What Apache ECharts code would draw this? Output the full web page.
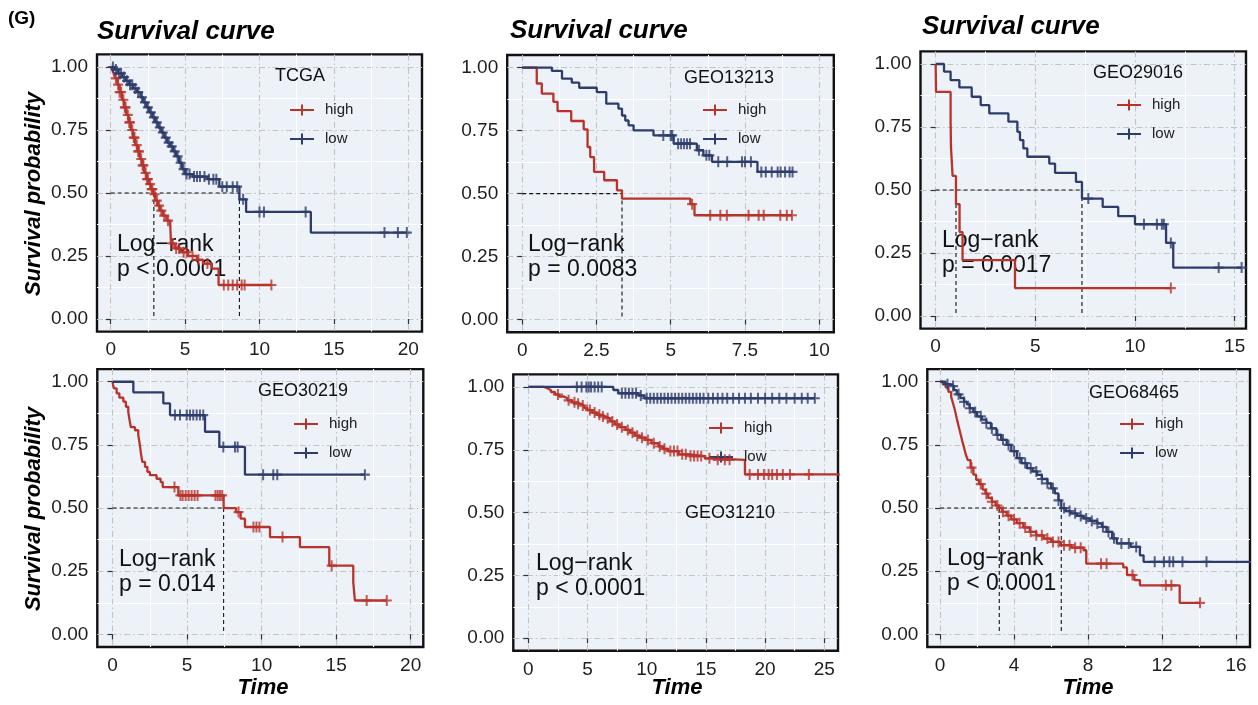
<!DOCTYPE html>
<html><head><meta charset="utf-8">
<script src="https://cdn.jsdelivr.net/npm/echarts@6/dist/echarts.min.js"></script>
<style>html,body{margin:0;padding:0;background:#fff}#c{width:1258px;height:705px}</style>
</head><body><div id="c"></div>
<script>
// ---------------- DATA ----------------
const yTicks = [0, 0.25, 0.5, 0.75, 1];

// TCGA
const tcgaTicks = [0, 5, 10, 15, 20];
const tcgaHigh = [[0,1],[0.1,0.99],[0.2,0.975],[0.3,0.955],[0.45,0.93],[0.6,0.9],[0.75,0.87],[0.9,0.84],[1.05,0.81],[1.2,0.78],[1.35,0.75],[1.5,0.72],[1.65,0.69],[1.8,0.665],[1.95,0.635],[2.1,0.61],[2.25,0.58],[2.4,0.555],[2.55,0.535],[2.7,0.515],[2.85,0.495],[3.0,0.47],[3.15,0.45],[3.3,0.43],[3.5,0.41],[3.75,0.39],[4.0,0.38],[4.05,0.3],[4.3,0.28],[4.7,0.265],[5.2,0.25],[5.8,0.235],[6.2,0.22],[6.8,0.2],[7.25,0.135]];
const tcgaHighCens = [0.35,0.5,0.6,0.7,0.85,0.95,1.0,1.15,1.25,1.3,1.45,1.55,1.6,1.75,1.85,1.9,2.05,2.15,2.2,2.35,2.45,2.5,2.65,2.75,2.8,2.95,3.1,3.25,3.4,3.6,3.85,4.15,4.4,4.6,4.9,5.1,5.5,5.9,6.5,7.6,7.9,8.2,8.5,8.8,9.0,10.8];
const tcgaLow = [[0,1],[0.25,0.99],[0.5,0.975],[0.75,0.96],[1.0,0.945],[1.25,0.93],[1.5,0.915],[1.75,0.9],[2.0,0.88],[2.2,0.86],[2.4,0.84],[2.6,0.82],[2.8,0.8],[3.0,0.78],[3.2,0.76],[3.4,0.74],[3.6,0.72],[3.8,0.7],[4.0,0.685],[4.2,0.665],[4.4,0.645],[4.6,0.62],[4.8,0.595],[5.0,0.575],[5.5,0.565],[6.5,0.555],[7.3,0.525],[8.65,0.475],[9.1,0.425],[13.45,0.343]];
const tcgaLowCens = [0.15,0.35,0.55,0.7,0.9,1.1,1.3,1.45,1.65,1.85,2.1,2.3,2.5,2.7,2.9,3.1,3.3,3.5,3.7,3.9,4.1,4.3,4.5,4.7,4.9,5.1,5.3,5.6,5.8,6.0,6.3,6.6,6.9,7.1,7.5,7.8,8.2,8.5,8.9,10.0,10.3,13.1,18.4,19.3,19.9];
const tcgaMedian = [2.9, 8.65];

// GEO13213
const g13213Ticks = [0, 2.5, 5, 7.5, 10];
const g13213High = [[0,1],[0.49,0.937],[0.66,0.897],[1.05,0.864],[1.19,0.827],[1.65,0.788],[2.07,0.755],[2.2,0.685],[2.29,0.645],[2.42,0.586],[2.76,0.553],[3.19,0.513],[3.36,0.48],[5.66,0.458],[5.8,0.414]];
const g13213HighCens = [5.72,6.33,6.67,6.89,7.62,7.96,8.13,8.69,8.91,9.08];
const g13213Low = [[0,1],[1.0,0.987],[1.34,0.956],[1.67,0.94],[1.92,0.92],[2.51,0.903],[2.83,0.857],[3.24,0.837],[3.36,0.81],[3.47,0.79],[3.58,0.771],[3.75,0.751],[4.42,0.731],[5.1,0.698],[5.88,0.672],[6.1,0.652],[6.39,0.626],[7.92,0.586]];
const g13213LowCens = [4.75,5.0,5.05,5.25,5.35,5.45,5.55,5.65,5.95,6.2,6.3,6.6,6.9,7.4,7.5,7.7,8.05,8.2,8.4,8.6,8.7,8.85,9.0,9.1];
const g13213Median = [3.36];

// GEO29016
const g29016Ticks = [0, 5, 10, 15];
const g29016High = [[0,1],[0.02,0.889],[0.75,0.778],[0.77,0.667],[0.85,0.556],[1.02,0.444],[1.2,0.333],[1.35,0.222],[3.98,0.111]];
const g29016HighCens = [11.8];
const g29016Low = [[0,1],[0.42,0.97],[0.75,0.936],[1.19,0.907],[1.81,0.87],[2.26,0.837],[2.69,0.804],[3.65,0.771],[4.1,0.731],[4.23,0.698],[4.4,0.665],[4.6,0.632],[5.7,0.605],[5.99,0.568],[7.04,0.532],[7.34,0.466],[8.38,0.433],[9.16,0.396],[10.0,0.364],[11.56,0.29],[11.92,0.192]];
const g29016LowCens = [7.66,10.45,11.1,11.35,11.45,11.8,14.2,15.35];
const g29016Median = [1.02, 7.34];

// GEO30219
const g30219Ticks = [0, 5, 10, 15, 20];
const g30219High = [[0,1],[0.02,0.99],[0.09,0.974],[0.27,0.954],[0.45,0.937],[0.72,0.921],[0.89,0.901],[1.05,0.881],[1.1,0.86],[1.16,0.84],[1.22,0.82],[1.5,0.808],[1.72,0.788],[1.83,0.749],[1.9,0.716],[1.99,0.683],[2.17,0.663],[2.33,0.643],[2.5,0.63],[2.95,0.616],[3.22,0.603],[3.36,0.583],[4.41,0.55],[7.45,0.5],[8.28,0.484],[8.59,0.458],[8.88,0.425],[10.56,0.385],[12.57,0.345],[14.54,0.272],[16.15,0.206],[16.26,0.134]];
const g30219HighCens = [4.15,4.55,4.7,4.9,5.1,5.3,5.5,5.7,6.9,7.05,7.2,7.35,8.45,9.45,9.65,9.85,11.4,14.7,17.05,18.4];
const g30219Low = [[0,1],[1.39,0.958],[3.4,0.914],[3.85,0.868],[6.2,0.802],[7.16,0.742],[8.88,0.632]];
const g30219LowCens = [4.18,4.52,4.97,5.19,5.41,5.64,5.86,6.08,7.43,8.21,8.39,10.1,10.78,11.05,16.93];
const g30219Median = [7.45];

// GEO31210
const g31210Ticks = [0, 5, 10, 15, 20, 25];
const g31210High = [[0,1],[1.3,0.995],[1.6,0.988],[1.9,0.98],[2.25,0.97],[2.6,0.962],[3.0,0.955],[3.3,0.947],[3.7,0.939],[4.0,0.933],[4.4,0.926],[4.7,0.917],[5.0,0.908],[5.4,0.898],[5.8,0.889],[6.2,0.882],[6.5,0.875],[6.9,0.863],[7.3,0.851],[7.7,0.84],[8.2,0.829],[8.6,0.818],[9.0,0.806],[9.4,0.798],[9.9,0.789],[10.4,0.776],[11.0,0.763],[11.4,0.754],[11.8,0.745],[12.7,0.732],[13.6,0.725],[14.9,0.716],[15.6,0.71],[18.3,0.652]];
const g31210HighCens = [2.5,3.4,3.9,4.2,4.6,5.2,5.6,6.0,6.3,6.7,7.1,7.5,7.9,8.4,8.8,9.2,9.6,10.1,10.6,11.1,11.5,12.0,12.3,12.6,13.0,13.3,13.7,14.0,14.3,14.6,15.3,16.0,16.6,17.0,18.7,19.4,19.9,20.3,20.6,21.0,21.5,22.1,23.7,26.3];
const g31210Low = [[0,1],[7.18,0.988],[7.6,0.975],[9.3,0.966],[9.8,0.955]];
const g31210LowCens = [4.1,4.5,4.9,5.1,5.3,5.6,5.9,6.2,7.9,8.2,8.5,8.8,9.1,9.5,10.0,10.3,10.6,10.9,11.2,11.5,11.8,12.1,12.4,12.7,13.0,13.3,13.6,13.9,14.2,14.5,14.8,15.2,15.6,16.0,16.4,16.8,17.3,17.8,18.3,18.8,19.4,20.0,20.6,21.2,21.8,22.5,23.1,23.6,24.2];
const g31210Median = [];

// GEO68465
const g68465Ticks = [0, 4, 8, 12, 16];
const g68465High = [[0,1],[0.15,0.99],[0.3,0.978],[0.45,0.96],[0.6,0.94],[0.7,0.915],[0.8,0.888],[0.9,0.855],[1.0,0.825],[1.1,0.795],[1.2,0.765],[1.3,0.738],[1.4,0.71],[1.5,0.69],[1.65,0.66],[1.8,0.632],[1.95,0.612],[2.1,0.595],[2.3,0.573],[2.45,0.557],[2.6,0.54],[2.8,0.525],[3.0,0.51],[3.2,0.5],[3.35,0.485],[3.6,0.47],[3.85,0.455],[4.15,0.44],[4.5,0.423],[4.85,0.406],[5.2,0.392],[5.6,0.379],[6.0,0.366],[6.5,0.353],[7.1,0.343],[7.75,0.333],[7.9,0.28],[9.9,0.265],[10.1,0.235],[10.5,0.215],[10.8,0.194],[12.95,0.125]];
const g68465HighCens = [1.7,2.2,2.5,2.8,3.1,3.4,3.7,4.0,4.3,4.6,4.9,5.2,5.5,5.8,6.1,6.4,6.7,7.0,7.3,7.6,8.7,9.0,10.4,12.2,12.5,14.05];
const g68465Low = [[0,1],[0.3,0.99],[0.55,0.983],[0.75,0.967],[0.9,0.95],[1.1,0.935],[1.3,0.92],[1.45,0.91],[1.6,0.895],[1.8,0.88],[2.0,0.863],[2.25,0.85],[2.5,0.837],[2.75,0.815],[3.05,0.79],[3.3,0.77],[3.6,0.75],[3.85,0.725],[4.15,0.698],[4.4,0.678],[4.7,0.658],[5.0,0.645],[5.25,0.631],[5.5,0.615],[5.8,0.598],[6.0,0.578],[6.2,0.558],[6.4,0.53],[6.55,0.5],[6.8,0.488],[7.05,0.479],[7.4,0.469],[7.75,0.459],[8.1,0.449],[8.5,0.439],[8.75,0.425],[9.0,0.406],[9.3,0.38],[9.55,0.36],[10.3,0.346],[10.8,0.313],[11.0,0.287]];
const g68465LowCens = [0.4,0.7,1.0,1.3,1.6,1.9,2.2,2.5,2.8,3.1,3.4,3.7,4.0,4.3,4.6,4.9,5.2,5.5,5.8,6.1,6.4,6.7,7.0,7.3,7.6,7.9,8.2,8.5,8.8,9.1,9.4,9.8,10.2,10.6,11.6,12.1,12.4,12.6,13.1,14.4,16.8];
const g68465Median = [3.2, 6.55];

const datasetNames = ['TCGA','GEO13213','GEO29016','GEO30219','GEO31210','GEO68465'];
const pTexts = ['p < 0.0001','p = 0.0083','p = 0.0017','p = 0.014','p < 0.0001','p < 0.0001'];

// ---------------- LAYOUT / STYLE ----------------
const FONT = '"Liberation Sans", Arial, Helvetica, sans-serif';
const RED = '#B8332A', BLUE = '#2E3C6B';
const CROSS = 'path://M0,4h10v2h-10z M4,0h2v10h-2z';
const LEG_ICON = 'path://M0,4.5h24v2h-24z M11,0h2v11h-2z';

const panels = [
  {high:tcgaHigh, highC:tcgaHighCens, low:tcgaLow, lowC:tcgaLowCens, med:tcgaMedian, ticks:tcgaTicks,
   box:[97,54.4,325,277.2], xr:[-0.92,20.92], title:[97,32], lab:[275,76], leg:[290,110], lr:[117,232.5], ylab:194, time:null},
  {high:g13213High, highC:g13213HighCens, low:g13213Low, lowC:g13213LowCens, med:g13213Median, ticks:g13213Ticks,
   box:[507.2,55,326.6,277.2], xr:[-0.505,10.49], title:[510,31], lab:[684,78], leg:[703,110], lr:[528,232.5], ylab:null, time:null},
  {high:g29016High, highC:g29016HighCens, low:g29016Low, lowC:g29016LowCens, med:g29016Median, ticks:g29016Ticks,
   box:[920.5,51.4,325.5,277.2], xr:[-0.76,15.57], title:[922,27], lab:[1093,73], leg:[1117,105], lr:[942,228.5], ylab:null, time:null},
  {high:g30219High, highC:g30219HighCens, low:g30219Low, lowC:g30219LowCens, med:g30219Median, ticks:g30219Ticks,
   box:[97.3,369.1,326,277.9], xr:[-1.03,20.85], title:null, lab:[258,391], leg:[294,424], lr:[119,547.5], ylab:509, time:263},
  {high:g31210High, highC:g31210HighCens, low:g31210Low, lowC:g31210LowCens, med:g31210Median, ticks:g31210Ticks,
   box:[513.3,374.4,324.7,276.4], xr:[-1.27,26.16], title:null, lab:[685,513], leg:[709,428], lr:[536,551.5], ylab:null, time:677},
  {high:g68465High, highC:g68465HighCens, low:g68465Low, lowC:g68465LowCens, med:g68465Median, ticks:g68465Ticks,
   box:[927.3,369.1,322.7,277.9], xr:[-0.69,16.75], title:null, lab:[1089,393], leg:[1120,424], lr:[947,546.5], ylab:null, time:1088}
];

function survAt(steps, t) {
  let s = steps[0][1];
  for (const [ti, si] of steps) { if (ti <= t) s = si; else break; }
  return s;
}
function extend(steps, cens) {
  const end = Math.max(...cens);
  const last = steps[steps.length - 1];
  return end > last[0] ? steps.concat([[end, last[1]]]) : steps.slice();
}
function minors(ticks) {
  const m = [];
  for (let i = 0; i < ticks.length - 1; i++) m.push((ticks[i] + ticks[i + 1]) / 2);
  return m;
}

const option = {
  animation: false,
  backgroundColor: '#ffffff',
  grid: [], xAxis: [], yAxis: [], series: [], legend: [], graphic: []
};

const tickLabelStyle = {fontSize: 19, color: '#1e1e1e', fontFamily: FONT};
const majorSplit = {show: true, lineStyle: {color: '#c4c4c4', width: 1.1, type: [6, 3, 1.5, 3]}};
const minorSplit = {show: true, lineStyle: {color: '#ffffff', width: 1.1}};

panels.forEach((P, i) => {
  option.grid.push({left: P.box[0], top: P.box[1], width: P.box[2], height: P.box[3], show: true,
    backgroundColor: '#EDF1F8', borderColor: '#111', borderWidth: 2.4, containLabel: false});
  option.xAxis.push({gridIndex: i, type: 'value', min: P.xr[0], max: P.xr[1], position: 'bottom',
    axisLine: {show: false},
    axisTick: {show: true, length: 5, lineStyle: {color: '#333', width: 1.2}, customValues: P.ticks},
    axisLabel: Object.assign({customValues: P.ticks, margin: 9}, tickLabelStyle),
    splitLine: majorSplit});
  const xm = minors(P.ticks);
  option.xAxis.push({gridIndex: i, type: 'value', min: P.xr[0], max: P.xr[1], position: 'top',
    axisLine: {show: false}, axisTick: {show: false, customValues: xm},
    axisLabel: {show: false, customValues: xm}, splitLine: minorSplit, z: 0});
  option.yAxis.push({gridIndex: i, type: 'value', min: -0.05, max: 1.05, position: 'left',
    axisLine: {show: false},
    axisTick: {show: true, length: 5, lineStyle: {color: '#333', width: 1.2}, customValues: yTicks},
    axisLabel: Object.assign({customValues: yTicks, margin: 9, formatter: v => v.toFixed(2)}, tickLabelStyle),
    splitLine: majorSplit});
  const ym = minors(yTicks);
  option.yAxis.push({gridIndex: i, type: 'value', min: -0.05, max: 1.05, position: 'right',
    axisLine: {show: false}, axisTick: {show: false, customValues: ym},
    axisLabel: {show: false, customValues: ym}, splitLine: minorSplit, z: 0});

  const xi = 2 * i, yi = 2 * i;
  const groups = [['high', P.high, P.highC, RED], ['low', P.low, P.lowC, BLUE]];
  groups.forEach(([name, steps, cens, col]) => {
    option.series.push({type: 'line', name, xAxisIndex: xi, yAxisIndex: yi, data: extend(steps, cens),
      step: 'end', symbol: 'none', showSymbol: false, lineStyle: {color: col, width: 2.3},
      itemStyle: {color: col}, z: 3, silent: true});
    option.series.push({type: 'scatter', name, xAxisIndex: xi, yAxisIndex: yi,
      data: cens.map(t => [t, survAt(steps, t)]), symbol: CROSS, symbolSize: [10, 11],
      itemStyle: {color: col}, z: 4, silent: true});
  });
  if (P.med.length) {
    const dash = {color: '#111', width: 1.1, type: [4, 3]};
    option.series.push({type: 'line', xAxisIndex: xi, yAxisIndex: yi, data: [[0, 0.5], [Math.max(...P.med), 0.5]],
      symbol: 'none', lineStyle: dash, z: 2, silent: true});
    P.med.forEach(m => option.series.push({type: 'line', xAxisIndex: xi, yAxisIndex: yi, data: [[m, 0.5], [m, 0]],
      symbol: 'none', lineStyle: dash, z: 2, silent: true}));
  }
  option.legend.push({left: P.leg[0], top: P.leg[1] - 9, orient: 'vertical', padding: 0, itemGap: 11,
    itemWidth: 24, itemHeight: 11, icon: LEG_ICON, data: ['high', 'low'], selectedMode: false,
    textStyle: {fontSize: 15, color: '#222', fontFamily: FONT, lineHeight: 18, padding: [0, 0, 0, 6]}});
  if (P.title) option.graphic.push({type: 'text', x: P.title[0], y: P.title[1], z: 1,
    style: {text: 'Survival curve', fontSize: 26, fontWeight: 'bold', fontStyle: 'italic', fontFamily: FONT,
      fill: '#000', align: 'left', verticalAlign: 'middle', textAlign: 'left', textVerticalAlign: 'middle'}});
  option.graphic.push({type: 'text', x: P.lab[0], y: P.lab[1], z: 1,
    style: {text: datasetNames[i], fontSize: 18, fontFamily: FONT, fill: '#111',
      align: 'left', verticalAlign: 'middle', textAlign: 'left', textVerticalAlign: 'middle'}});
  option.graphic.push({type: 'text', x: P.lr[0], y: P.lr[1], z: 1,
    style: {text: 'Log\u2212rank\n' + pTexts[i], fontSize: 23, lineHeight: 25, fontFamily: FONT, fill: '#111',
      align: 'left', verticalAlign: 'top', textAlign: 'left', textVerticalAlign: 'top'}});
  if (P.ylab) option.graphic.push({type: 'text', x: 34, y: P.ylab, rotation: Math.PI / 2, z: 1,
    style: {text: 'Survival probability', fontSize: 22, fontWeight: 'bold', fontStyle: 'italic', fontFamily: FONT,
      fill: '#000', align: 'center', verticalAlign: 'middle', textAlign: 'center', textVerticalAlign: 'middle'}});
  if (P.time) option.graphic.push({type: 'text', x: P.time, y: 688, z: 1,
    style: {text: 'Time', fontSize: 22, fontWeight: 'bold', fontStyle: 'italic', fontFamily: FONT,
      fill: '#000', align: 'center', verticalAlign: 'middle', textAlign: 'center', textVerticalAlign: 'middle'}});
});
option.graphic.push({type: 'text', x: 8, y: 19, z: 1,
  style: {text: '(G)', fontSize: 19, fontWeight: 'bold', fontFamily: FONT, fill: '#000',
    align: 'left', verticalAlign: 'middle', textAlign: 'left', textVerticalAlign: 'middle'}});

const chart = echarts.init(document.getElementById('c'), null, {renderer: 'canvas'});
chart.setOption(option);
</script>
</body></html>
